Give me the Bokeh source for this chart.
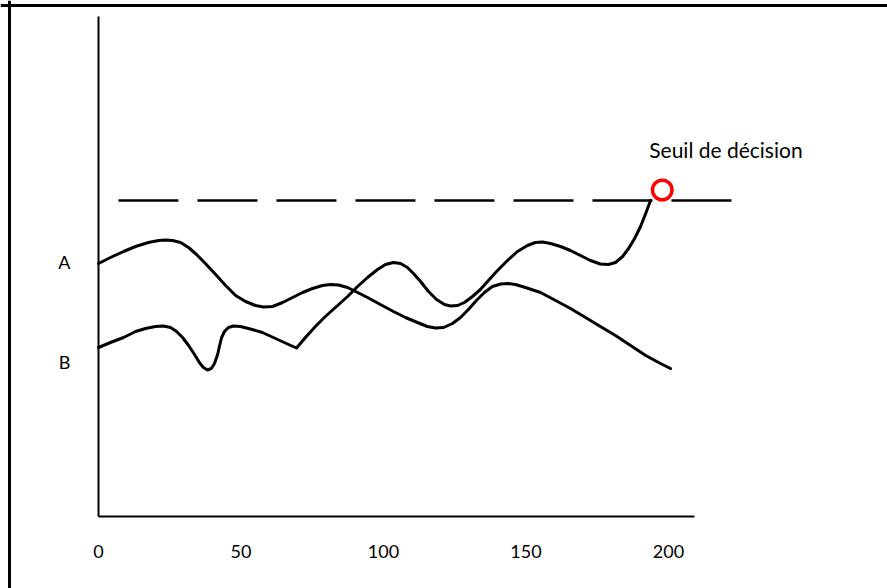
from bokeh.plotting import figure
from bokeh.models import Range1d, FixedTicker, Span, Label
from bokeh.embed import file_html
from bokeh.resources import INLINE

# ---- data ----
curve_a_x = [0, 4.2, 8.8, 13.0, 17.5, 21.1, 23.5, 26.0, 28.8, 31.6,
             34.4, 37.5, 41.1, 44.6, 48.1, 51.6, 55.1, 57.9, 61.1, 64.6,
             68.1, 71.6, 75.1, 78.6, 81.4, 84.2, 87.4, 90.9, 94.4, 98.9,
             103.5, 107.7, 111.9, 115.4, 118.2, 121.1, 124.2, 127.0, 129.8, 132.6,
             135.4, 138.2, 141.1, 143.5, 146.3, 149.8, 155.1, 160.4, 165.6, 170.9,
             176.1, 181.4, 186.7, 192.0, 197.2, 200.7]
curve_a_y = [50.6, 51.8, 53.0, 54.0, 54.8, 55.2, 55.3, 55.2, 54.8, 53.8,
             52.4, 50.6, 48.4, 46.2, 44.2, 43.0, 42.2, 41.9, 42.0, 42.8,
             43.8, 44.8, 45.6, 46.2, 46.4, 46.3, 45.8, 44.8, 43.8, 42.4,
             41.0, 39.8, 38.8, 38.0, 37.7, 37.8, 38.6, 39.8, 41.4, 43.2,
             44.8, 46.0, 46.5, 46.6, 46.4, 45.8, 44.8, 43.2, 41.6, 39.8,
             38.0, 36.2, 34.2, 32.2, 30.6, 29.6]

curve_b_x = [0, 4.2, 8.8, 13.0, 16.5, 20.0, 22.8, 25.3, 27.4, 29.5,
             31.6, 33.7, 35.4, 36.8, 38.2, 39.6, 40.7, 41.8, 42.5, 43.2,
             44.2, 45.6, 47.4, 49.8, 53.3, 57.5, 62.1, 66.7, 69.5, 72.6,
             76.1, 79.6, 83.9, 87.4, 90.9, 94.4, 97.9, 100.7, 103.5, 106.0,
             108.4, 110.5, 113.0, 115.8, 118.6, 121.4, 123.5, 126.0, 128.4, 131.2,
             134.0, 136.8, 140.0, 143.5, 147.0, 150.5, 153.3, 155.8, 158.6, 162.1,
             165.6, 169.1, 172.6, 176.1, 178.9, 181.4, 183.9, 186.0, 188.1, 190.2,
             192.0, 193.7]
curve_b_y = [33.8, 34.8, 35.8, 37.0, 37.6, 38.0, 38.1, 37.8, 37.0, 35.8,
             34.2, 32.4, 30.8, 29.8, 29.3, 29.6, 30.6, 32.4, 34.2, 35.8,
             37.0, 37.8, 38.1, 38.0, 37.5, 36.8, 35.6, 34.4, 33.7, 35.8,
             38.0, 40.0, 42.2, 44.0, 46.0, 47.8, 49.4, 50.4, 50.8, 50.6,
             49.8, 48.6, 47.0, 45.0, 43.4, 42.4, 42.1, 42.2, 42.8, 44.0,
             45.4, 47.2, 49.2, 51.2, 53.0, 54.2, 54.8, 54.9, 54.6, 54.0,
             53.2, 52.2, 51.2, 50.5, 50.4, 50.8, 52.0, 53.6, 55.6, 58.0,
             60.6, 63.2]

threshold_x = [7.0, 222.1]
threshold_value = 63.2
decision_x = [197.8]
decision_y = [65.3]
decision_label = "Seuil de décision"

x_ticks = [0, 50, 100, 150, 200]
y_ticks = [51, 31]
y_tick_labels = ["A", "B"]

FONT = "Lato"
TICK_FS = "18px"
LABEL_FS = "21px"

# ---- figure ----
x_start, x_end = -34.386, 276.842
y_start, y_end = -14.4, 103.2

p = figure(width=887, height=588, output_backend="svg", toolbar_location=None,
           x_range=Range1d(x_start, x_end), y_range=Range1d(y_start, y_end),
           min_border=0, title=None)
p.background_fill_color = "white"
p.border_fill_color = "white"
p.outline_line_color = None
p.xgrid.visible = False
p.ygrid.visible = False

# axes drawn inside the frame at data 0
xa = p.xaxis[0]
xa.fixed_location = 0
xa.bounds = (0, 209)
xa.ticker = FixedTicker(ticks=x_ticks)
xa.axis_line_width = 2
xa.axis_line_color = "black"
xa.major_tick_line_color = None
xa.minor_tick_line_color = None
xa.major_tick_out = 0
xa.major_tick_in = 0
xa.major_label_standoff = 28
xa.major_label_text_font = FONT
xa.major_label_text_font_size = TICK_FS
xa.major_label_text_color = "black"

ya = p.yaxis[0]
ya.fixed_location = 0
ya.bounds = (0, 100)
ya.ticker = FixedTicker(ticks=y_ticks)
ya.major_label_overrides = {t: lab for t, lab in zip(y_ticks, y_tick_labels)}
ya.axis_line_width = 2
ya.axis_line_color = "black"
ya.major_tick_line_color = None
ya.minor_tick_line_color = None
ya.major_tick_out = 0
ya.major_tick_in = 0
ya.major_label_standoff = 28
ya.major_label_text_font = FONT
ya.major_label_text_font_size = TICK_FS
ya.major_label_text_color = "black"
ya.major_label_orientation = "horizontal"

# box border (left and top edges of the drawing frame)
p.add_layout(Span(location=x_start + 3.16, dimension="height", line_color="black", line_width=3))
p.add_layout(Span(location=y_end - 1.0, dimension="width", line_color="black", line_width=3))

# curves
p.line(curve_a_x, curve_a_y, line_color="black", line_width=3, line_join="round", line_cap="round")
p.line(curve_b_x, curve_b_y, line_color="black", line_width=3, line_join="round", line_cap="round")

# threshold
p.line(threshold_x, [threshold_value] * len(threshold_x), line_color="black", line_width=2.5,
       line_dash="60 19")

# decision point
p.scatter(decision_x, decision_y, marker="circle", size=19.5, fill_color="white",
          line_color="#ff0000", line_width=3.5)

p.add_layout(Label(x=decision_x[0], y=decision_y[0], text=decision_label, x_offset=-13,
                   y_offset=41, text_font=FONT, text_font_size=LABEL_FS, text_color="black",
                   text_align="left", text_baseline="alphabetic"))

open("out.html", "w").write(file_html(p, INLINE))
